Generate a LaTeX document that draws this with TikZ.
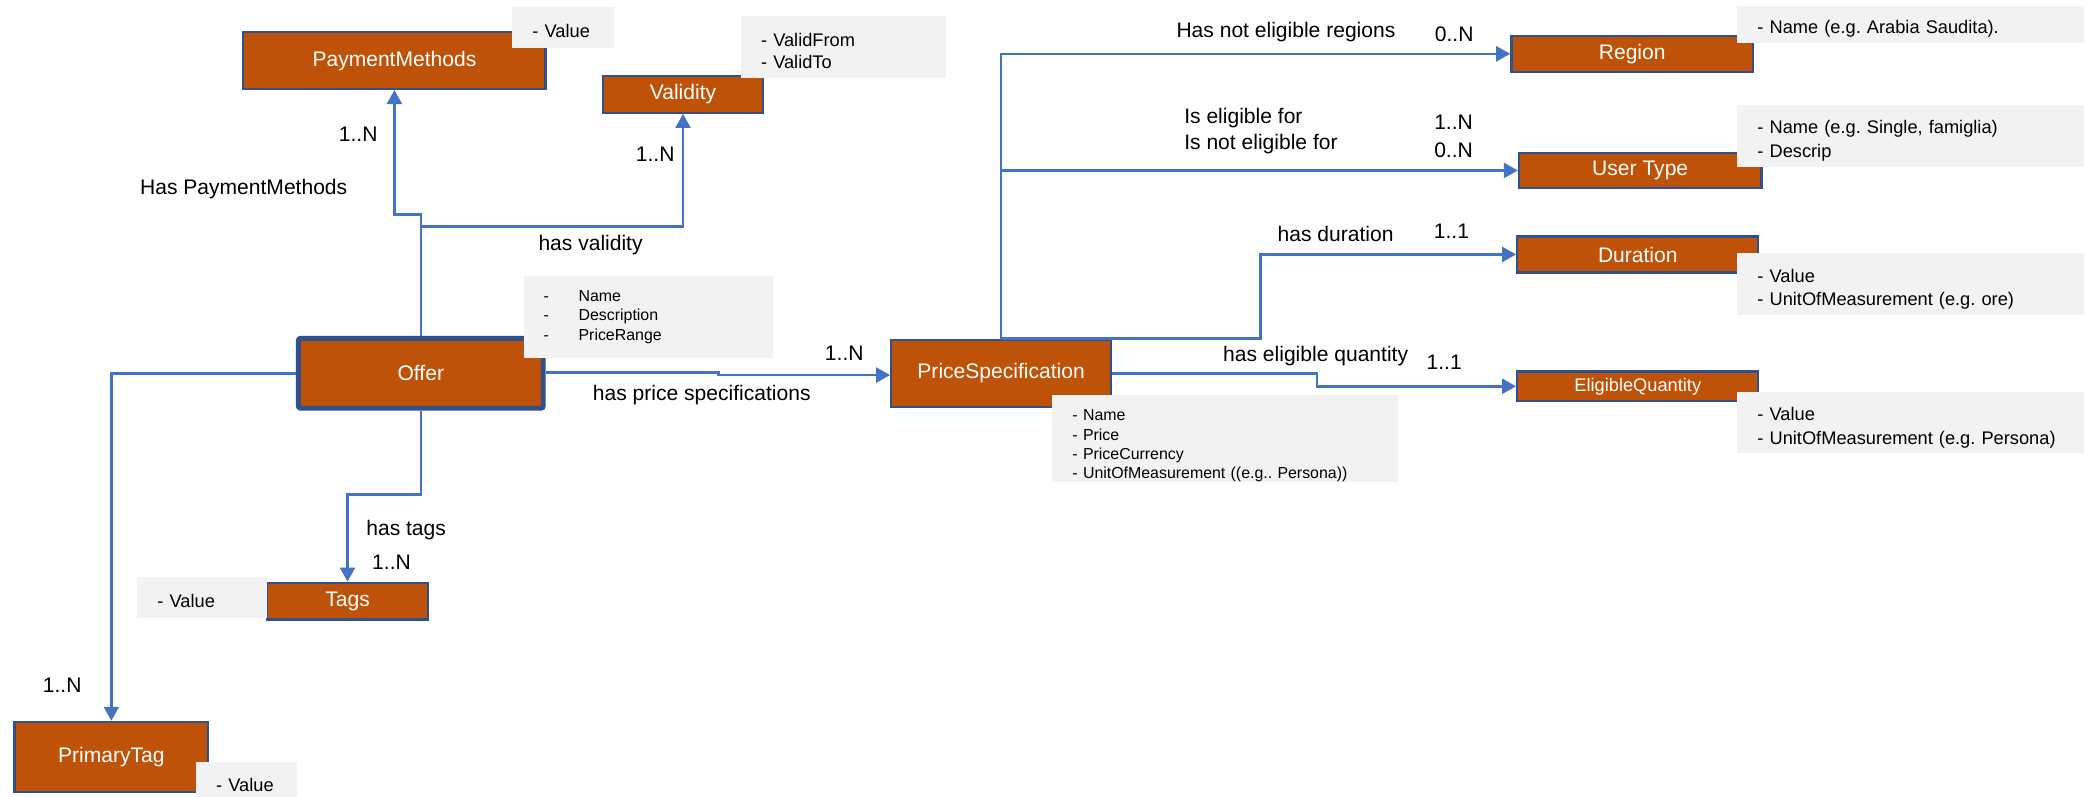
\documentclass[tikz,border=0pt]{standalone}
\usepackage{fontspec}
\setmainfont{Liberation Sans}
\frenchspacing
\usetikzlibrary{arrows.meta}
\definecolor{boxfill}{RGB}{189,82,8}
\definecolor{boxline}{RGB}{47,82,143}
\definecolor{linkblue}{RGB}{68,114,196}
\definecolor{notegray}{RGB}{242,242,242}
\tikzset{
  entity/.style={draw=boxline, line width=1pt, fill=boxfill, text=white, inner sep=0pt, font=\fontsize{9}{11}\selectfont},
  note/.style={fill=notegray, anchor=north west, align=left, inner xsep=0.3cm, inner ysep=0pt, font=\fontsize{7.8}{10}\selectfont, execute at begin node={\rule{0pt}{#1}}},
  note/.default=10pt,
  smallnote/.style={note=#1, font=\fontsize{6.8}{8.2}\selectfont},
  smallnote/.default=0pt,
  link/.style={draw=linkblue, line width=1.1pt, -{Triangle[width=6.4pt,length=6pt]}},
  lbl/.style={inner sep=0pt, font=\fontsize{9}{11}\selectfont},
}
\begin{document}
\begin{tikzpicture}[x=0.02cm,y=-0.02cm]
		\useasboundingbox (0,0) rectangle (1568,598);
		% entities
		\node[entity, minimum width=4.54cm, minimum height=0.85cm] (pm) at (296.2,45.5) {PaymentMethods};
		\node[entity, minimum width=2.41cm, minimum height=0.55cm] (val) at (512.9,70.9) {Validity};
		\node[entity, line width=2.1pt, rounded corners=1pt, minimum width=3.68cm, minimum height=1.05cm] (offer) at (316,280.3) {Offer};
		\node[entity, minimum width=3.3cm, minimum height=1.01cm] (ps) at (751.8,280.4) {PriceSpecification};
		\node[entity, minimum width=3.63cm, minimum height=0.54cm] (region) at (1225.7,40.4) {Region};
		\node[entity, minimum width=3.64cm, minimum height=0.53cm] (ut) at (1231.7,128) {User Type};
		\node[entity, minimum width=3.62cm, minimum height=0.54cm] (dur) at (1229.9,191.1) {Duration};
		\node[entity, minimum width=3.62cm, minimum height=0.44cm, font=\fontsize{7.8}{9}\selectfont] (eq) at (1229.9,290.1) {EligibleQuantity};
		\node[entity, minimum width=2.42cm, minimum height=0.55cm] (tags) at (261,451.4) {Tags};
		\node[entity, minimum width=2.91cm, minimum height=1.05cm] (pt) at (83.6,568.4) {PrimaryTag};
		% connectors
		\coordinate (pmbend) at (316,161);
		\coordinate (valbend) at (316,170.2);
		\coordinate (tagbend) at (316,371.2);
		\draw[link] (offer.north) -- (pmbend) -| (pm.south);
		\draw[link] (valbend) -| (val.south);
		\draw[link] (offer.south) -- (tagbend) -| (tags.north);
		\draw[link] (offer.west) -| (pt.north);
		\draw[link] ([yshift=0.008cm]offer.east) -- ++(129.8,0) |- ([yshift=-0.025cm]ps.west);
		\draw[link] (ps.north) |- (region.west);
		\draw[link] (ps.north |- ut.west) -- (ut.west);
		\draw[link] (ps.north) -- ++(194.6,0) |- (dur.west);
		\draw[link] (ps.east) -- ++(153.8,0) |- (eq.west);
		% attribute notes
		\node[note=8.8pt, text width=0.92cm, minimum height=0.61cm] (pmnote) at (384.5,5) {- Value};
		\node[note=8.8pt, text width=2.48cm, minimum height=0.92cm, font=\fontsize{7.8}{9.6}\selectfont] (valnote) at (556.2,12) {- ValidFrom\\- ValidTo};
		\node[smallnote, text width=3.14cm, minimum height=1.23cm] (offernote) at (392.8,207) {\makebox[15pt][l]{-}Name\\\makebox[15pt][l]{-}Description\\\makebox[15pt][l]{-}PriceRange};
		\node[smallnote=11pt, text width=4.59cm, minimum height=1.32cm] (psnote) at (790,295.9) {- Name\\- Price\\- PriceCurrency\\- UnitOfMeasurement ((e.g.. Persona))};
		\node[note, text width=4.61cm, minimum height=0.56cm] (regionnote) at (1304.4,3.8) {- Name (e.g. Arabia Saudita).};
		\node[note, text width=4.61cm, minimum height=0.93cm] (utnote) at (1304.4,78.3) {- Name (e.g. Single, famiglia)\\- Descrip};
		\node[note, text width=4.61cm, minimum height=0.93cm] (durnote) at (1304.4,189.8) {- Value\\- UnitOfMeasurement (e.g. ore)};
		\node[note, text width=4.61cm, minimum height=0.92cm] (eqnote) at (1304.4,294.1) {- Value\\- UnitOfMeasurement (e.g. Persona)};
		\node[note=8.5pt, text width=1.35cm, minimum height=0.61cm] (tagsnote) at (102.9,433.3) {- Value};
		\node[note=8.5pt, text width=0.92cm, minimum height=0.61cm] (ptnote) at (147,571.5) {- Value};
		% relation labels
		\node[lbl] (lpm) at (183,142) {Has PaymentMethods};
		\node[lbl] (npm) at (269,101) {1..N};
		\node[lbl] (nval) at (492,116) {1..N};
		\node[lbl] (lval) at (443.5,184) {has validity};
		\node[lbl] (nps) at (634,265) {1..N};
		\node[lbl] (lps) at (527,297) {has price specifications};
		\node[lbl] (ltags) at (305,398) {has tags};
		\node[lbl] (ntags) at (294,422.6) {1..N};
		\node[lbl] (npt) at (46.7,514.4) {1..N};
		\node[lbl] (lregion) at (965.7,24.3) {Has not eligible regions};
		\node[lbl] (nregion) at (1092,25.8) {0..N};
		\node[lbl, anchor=west, align=left, font=\fontsize{9}{10.9}\selectfont] (lut) at (889,98.5) {Is eligible for\\Is not eligible for};
		\node[lbl, anchor=west, align=left, font=\fontsize{9}{11.7}\selectfont] (nut) at (1076.7,102.4) {1..N\\0..N};
		\node[lbl] (ldur) at (1003,176) {has duration};
		\node[lbl] (ndur) at (1090,173.5) {1..1};
		\node[lbl] (leq) at (988,267.3) {has eligible quantity};
		\node[lbl] (neq) at (1084.5,272.3) {1..1};
	    \end{tikzpicture}
\end{document}
